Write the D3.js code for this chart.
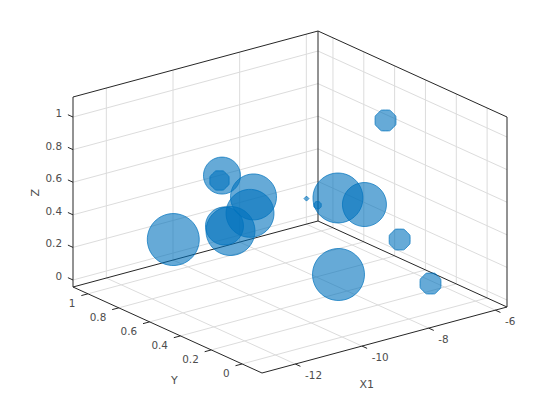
<!DOCTYPE html>
<html><head><meta charset="utf-8">
<style>html,body{margin:0;padding:0;background:#fff}svg{display:block}text{font-family:"DejaVu Sans";fill:#4d4d4d}</style>
<script src="https://d3js.org/d3.v7.min.js"></script></head><body>
<svg id="c" width="560" height="420"></svg>
<script>
const xVals=[-9.904,-9.979,-9.883,-9.988,-10.574,-10.754,-11.365,-8.275,-7.48,-7.963,-7.369,-5.923,-7.349,-9.646,-6.886];
const yVals=[0.8,0.8,0.6,0.6,0.6,0.6,0.8,0.4,0.4,0.6,0.8,0.6,0.2,0.1,0.1];
const zVals=[0.598,0.572,0.552,0.457,0.381,0.4215,0.286,0.543,0.459,0.395,0.317,0.803,0.323,0.278,0.0706];
const sizes=[1369,361,2116,2304,2401,1444,2704,2500,1936,55,25,424,424,2704,424];
const xTicks=[-12,-10,-8,-6];
const yTicks=[0,0.2,0.4,0.6,0.8,1];
const zTicks=[0,0.2,0.4,0.6,0.8,1];
const xLim=[-13,-5.65], yLim=[-0.129,1.097], zLim=[-0.043,1.123];

const front=[262,373];
const sx=d3.scaleLinear().domain(xLim).range([0,1]);
const sy=d3.scaleLinear().domain(yLim).range([0,1]);
const sz=d3.scaleLinear().domain(zLim).range([0,1]);
const sr=d3.scaleSqrt().domain([0,2704]).range([0,26]);
function P(x,y,z){const a=sx(x),b=sy(y),c=sz(z);
  return [front[0]+a*245-b*189, front[1]-a*66-b*86-c*190];}
const svg=d3.select("#c");
const seg=(g,p,q,col,w)=>g.append("line").attr("x1",p[0]).attr("y1",p[1]).attr("x2",q[0]).attr("y2",q[1])
  .attr("stroke",col).attr("stroke-width",w||1);
const [x0,x1]=xLim,[y0,y1]=yLim,[z0,z1]=zLim;
const GRID="#dcdcdc", BOX="#262626";
const grid=svg.append("g");
xTicks.forEach(t=>{seg(grid,P(t,y1,z0),P(t,y1,z1),GRID);seg(grid,P(t,y0,z0),P(t,y1,z0),GRID);});
yTicks.forEach(t=>{seg(grid,P(x1,t,z0),P(x1,t,z1),GRID);seg(grid,P(x0,t,z0),P(x1,t,z0),GRID);});
zTicks.forEach(t=>{seg(grid,P(x0,y1,t),P(x1,y1,t),GRID);seg(grid,P(x1,y0,t),P(x1,y1,t),GRID);});
const box=svg.append("g");
[[[x0,y1,z0],[x0,y1,z1]],[[x1,y1,z0],[x1,y1,z1]],[[x1,y0,z0],[x1,y0,z1]],
 [[x0,y1,z1],[x1,y1,z1]],[[x1,y1,z1],[x1,y0,z1]],
 [[x0,y1,z0],[x1,y1,z0]],[[x1,y1,z0],[x1,y0,z0]],
 [[x0,y1,z0],[x0,y0,z0]],[[x0,y0,z0],[x1,y0,z0]]].forEach(e=>seg(box,P(...e[0]),P(...e[1]),BOX));
const TX=0.027*(y1-y0), TY=0.027*(x1-x0), TZ=0.027*(y1-y0);
const TS=10.4;
xTicks.forEach(t=>{const p=P(t,y0,z0);seg(box,p,P(t,y0-TX,z0),BOX);
  svg.append("text").attr("x",p[0]+9.7).attr("y",p[1]+15).attr("font-size",TS).text(t);});
yTicks.forEach(t=>{const p=P(x0,t,z0);seg(box,p,P(x0-TY,t,z0),BOX);
  svg.append("text").attr("x",p[0]-12.5).attr("y",p[1]+13).attr("font-size",TS).attr("text-anchor","end").text(t);});
zTicks.forEach(t=>{const p=P(x0,y1,t);seg(box,p,P(x0,y1+TZ,t),BOX);
  svg.append("text").attr("x",p[0]-11).attr("y",p[1]+0).attr("font-size",TS).attr("text-anchor","end").text(t);});
svg.append("text").attr("x",366.7).attr("y",388).attr("font-size",11).attr("text-anchor","middle").text("X1");
svg.append("text").attr("x",174.3).attr("y",383.5).attr("font-size",11).attr("text-anchor","middle").text("Y");
svg.append("text").attr("transform","translate(39,192.7) rotate(-90)").attr("font-size",11).attr("text-anchor","middle").text("Z");
const poly=(r)=>{const n=r<3?4:r<12?8:48;const off=n===4?0:Math.PI/n;
  const R=n===8?r/Math.cos(Math.PI/8):r;
  const line=d3.lineRadial().curve(n===8?d3.curveCardinalClosed.tension(0.75):d3.curveLinearClosed);
  return line(d3.range(n).map(i=>[off+i*2*Math.PI/n,R]));};
const pts=xVals.map((x,i)=>({p:P(x,yVals[i],zVals[i]),r:sr(sizes[i])}));
svg.append("g").selectAll("path").data(pts).join("path")
  .attr("transform",d=>`translate(${d.p[0]},${d.p[1]})`)
  .attr("d",d=>poly(d.r)).attr("fill","#0072BD").attr("fill-opacity",0.6).attr("stroke","#0072BD").attr("stroke-width",0.7);
</script></body></html>
